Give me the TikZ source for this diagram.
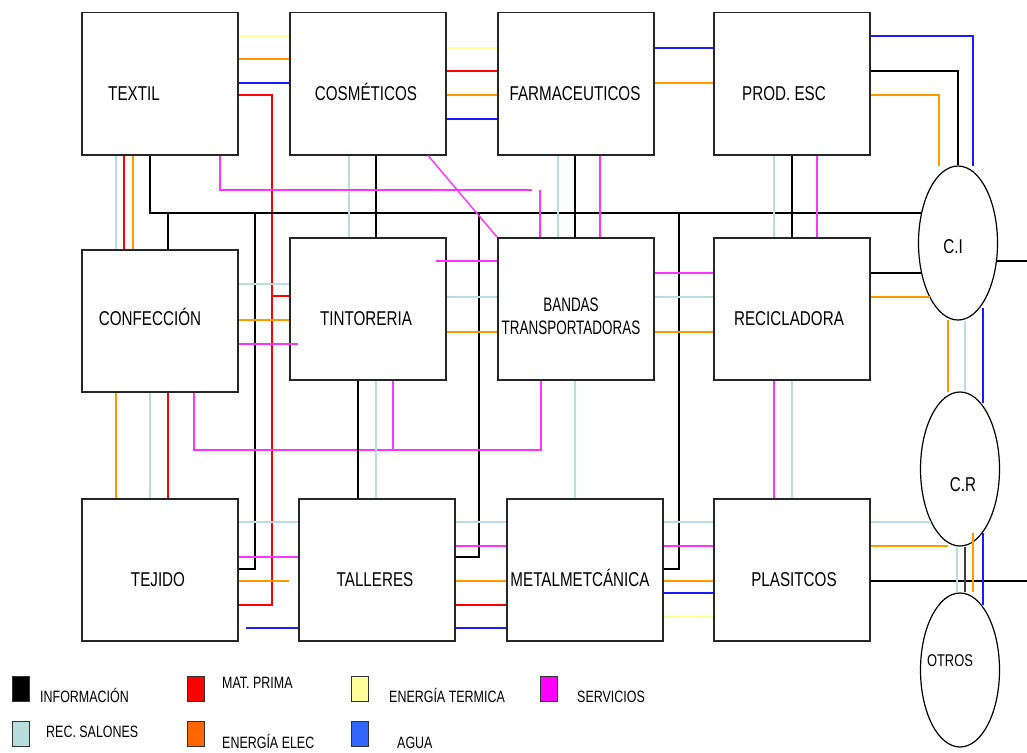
\documentclass[tikz,border=0pt]{standalone}
\usepackage{fontspec}
\setmainfont{Liberation Sans}[FakeStretch=0.76]
\newfontfamily\narrowfont{Liberation Sans}[FakeStretch=0.69]
\usetikzlibrary{shapes.geometric}

\definecolor{cInfo}{HTML}{000000}
\definecolor{cMat}{HTML}{FF0000}
\definecolor{cTerm}{HTML}{FFFF99}
\definecolor{cServ}{HTML}{FF33FF}
\definecolor{cRec}{HTML}{B7DDE0}
\definecolor{cElec}{HTML}{FF9900}
\definecolor{cAgua}{HTML}{1A1AFF}
\definecolor{kServ}{HTML}{FF00FF}
\definecolor{kRec}{HTML}{B7DDDD}
\definecolor{kElec}{HTML}{FF6600}
\definecolor{kAgua}{HTML}{3366FF}

\begin{document}
\begin{tikzpicture}[x=1pt,y=-1pt,
  unit/.style={draw=black!85, line width=1.5pt, minimum width=156pt, minimum height=142pt, inner sep=0pt, anchor=north west},
  hub/.style={ellipse, draw=black, line width=1.2pt, minimum width=79pt, minimum height=154pt, inner sep=0pt},
  lbl/.style={inner sep=0pt, anchor=base, font=\fontsize{20}{24}\selectfont},
  keytext/.style={inner sep=0pt, anchor=base west, font=\fontsize{16.4}{20}\selectfont},
  swatch/.style={draw=black!80, line width=0.8pt, minimum width=17pt, minimum height=25pt, inner sep=0pt, anchor=north west},
  lnInfo/.style={draw=cInfo, line width=1.3pt},
  lnInfoB/.style={draw=black!75, line width=2pt},
  lnMat/.style={draw=cMat, line width=1.3pt},
  lnTerm/.style={draw=cTerm, line width=1.5pt},
  lnServ/.style={draw=cServ, line width=1.4pt},
  lnRec/.style={draw=cRec, line width=1.4pt},
  lnElec/.style={draw=cElec, line width=1.3pt},
  lnAgua/.style={draw=cAgua, line width=1.3pt}]

\useasboundingbox (0,0) rectangle (1027,752);
\fill[white] (0,0) rectangle (1027,752);

% process units
\node[unit] (textil) at (81,12) {};
\node[unit] (cosm)   at (289,12) {};
\node[unit] (farma)  at (497,12) {};
\node[unit] (prod)   at (713,12) {};
\node[unit] (confe)  at (81,249) {};
\node[unit] (tinto)  at (289,237) {};
\node[unit] (bandas) at (497,237) {};
\node[unit] (recic)  at (713,237) {};
\node[unit] (tejido) at (81,498) {};
\node[unit] (talle)  at (298,498) {};
\node[unit] (metal)  at (506,498) {};
\node[unit] (plast)  at (713,498) {};

% collection hubs
\node[hub] (ci)    at (958,243) {};
\node[hub] (cr)    at (960,469) {};
\node[hub] (otros) at (960,670) {};

% free ends at the right border
\coordinate (edgeA) at (1027,261);
\coordinate (edgeB) at (1027,581);

% ---- top row links
\draw[lnTerm] (textil.east |- 0,36) -- (cosm.west |- 0,36);
\draw[lnElec] (textil.east |- 0,59) -- (cosm.west |- 0,59);
\draw[lnAgua] (textil.east |- 0,83) -- (cosm.west |- 0,83);
\draw[lnMat] (textil.east |- 0,95) -- (272,95) -- (272,605) -- (tejido.east |- 0,605);
\draw[lnMat] (272,296) -- (tinto.west |- 0,296);

\draw[lnTerm] (cosm.east |- 0,48) -- (farma.west |- 0,48);
\draw[lnMat] (cosm.east |- 0,71) -- (farma.west |- 0,71);
\draw[lnElec] (cosm.east |- 0,95) -- (farma.west |- 0,95);
\draw[lnAgua] (cosm.east |- 0,119) -- (farma.west |- 0,119);

\draw[lnAgua] (farma.east |- 0,48) -- (prod.west |- 0,48);
\draw[lnElec] (farma.east |- 0,83) -- (prod.west |- 0,83);

\draw[lnAgua] (prod.east |- 0,36) -| (973,166);
\draw[lnInfo] (prod.east |- 0,71) -| (ci.north);
\draw[lnElec] (prod.east |- 0,95) -| (939,166);

% ---- top row to middle row
\draw[lnRec] (textil.south -| 116,0) -- (confe.north -| 116,0);
\draw[lnMat] (textil.south -| 124,0) -- (confe.north -| 124,0);
\draw[lnElec] (textil.south -| 133,0) -- (confe.north -| 133,0);

\draw[lnInfo] (textil.south -| 150,0) |- (922,213);
\draw[lnInfo] (168,213) -- (confe.north -| 168,0);
\draw[lnInfo] (255,213) |- (tejido.east |- 0,569);
\draw[lnInfo] (479,213) |- (talle.east |- 0,557);
\draw[lnInfo] (679,213) |- (metal.east |- 0,569);

\draw[lnRec] (cosm.south -| 349,0) -- (tinto.north -| 349,0);
\draw[lnInfo] (cosm.south -| 376,0) -- (tinto.north -| 376,0);
\draw[lnServ] (cosm.south -| 220,0) |- (532,190);
\draw[lnServ] (540,190) -- (bandas.north -| 540,0);
\draw[lnServ] (cosm.south -| 428,0) -- (bandas.north west);

\draw[lnRec] (farma.south -| 558,0) -- (bandas.north -| 558,0);
\draw[lnInfo] (farma.south -| 575,0) -- (bandas.north -| 575,0);
\draw[lnServ] (farma.south -| 600,0) -- (bandas.north -| 600,0);

\draw[lnRec] (prod.south -| 774,0) -- (recic.north -| 774,0);
\draw[lnInfo] (prod.south -| 792,0) -- (recic.north -| 792,0);
\draw[lnServ] (prod.south -| 817,0) -- (recic.north -| 817,0);

% ---- middle row links
\draw[lnRec] (confe.east |- 0,284) -- (tinto.west |- 0,284);
\draw[lnElec] (confe.east |- 0,320) -- (tinto.west |- 0,320);
\draw[lnServ] (confe.east |- 0,344) -- (298,344);

\draw[lnServ] (436,261) -- (bandas.west |- 0,261);
\draw[lnRec] (tinto.east |- 0,297) -- (bandas.west |- 0,297);
\draw[lnElec] (tinto.east |- 0,332) -- (bandas.west |- 0,332);

\draw[lnServ] (bandas.east |- 0,273) -- (recic.west |- 0,273);
\draw[lnRec] (bandas.east |- 0,297) -- (recic.west |- 0,297);
\draw[lnElec] (bandas.east |- 0,332) -- (recic.west |- 0,332);

\draw[lnInfo] (recic.east |- 0,273) -- (922,273);
\draw[lnElec] (recic.east |- 0,297) -- (930,297);
\draw[lnInfo] (996,261) -- (edgeA);

\draw[lnElec] (948,320) -- (948,392);
\draw[lnRec] (ci.south -| 965,0) -- (cr.north -| 965,0);
\draw[lnAgua] (983,308) -- (983,403);

% ---- middle row to bottom row
\draw[lnElec] (confe.south -| 116,0) -- (tejido.north -| 116,0);
\draw[lnRec] (confe.south -| 150,0) -- (tejido.north -| 150,0);
\draw[lnMat] (confe.south -| 168,0) -- (tejido.north -| 168,0);
\draw[lnServ] (confe.south -| 194,0) |- (541,450) -- (bandas.south -| 541,0);
\draw[lnServ] (tinto.south -| 393,0) -- (393,450);

\draw[lnInfo] (tinto.south -| 358,0) -- (talle.north -| 358,0);
\draw[lnRec] (tinto.south -| 376,0) -- (talle.north -| 376,0);
\draw[lnRec] (bandas.south -| 575,0) -- (metal.north -| 575,0);
\draw[lnServ] (recic.south -| 774,0) -- (plast.north -| 774,0);
\draw[lnRec] (recic.south -| 792,0) -- (plast.north -| 792,0);

% ---- bottom row links
\draw[lnRec] (tejido.east |- 0,522) -- (talle.west |- 0,522);
\draw[lnServ] (tejido.east |- 0,557) -- (talle.west |- 0,557);
\draw[lnElec] (tejido.east |- 0,581) -- (289,581);
\draw[lnAgua] (246,628) -- (talle.west |- 0,628);

\draw[lnRec] (talle.east |- 0,522) -- (metal.west |- 0,522);
\draw[lnServ] (talle.east |- 0,546) -- (metal.west |- 0,546);
\draw[lnElec] (talle.east |- 0,581) -- (metal.west |- 0,581);
\draw[lnMat] (talle.east |- 0,605) -- (metal.west |- 0,605);
\draw[lnAgua] (talle.east |- 0,628) -- (metal.west |- 0,628);

\draw[lnRec] (metal.east |- 0,522) -- (plast.west |- 0,522);
\draw[lnServ] (metal.east |- 0,546) -- (plast.west |- 0,546);
\draw[lnElec] (metal.east |- 0,581) -- (plast.west |- 0,581);
\draw[lnAgua] (metal.east |- 0,593) -- (plast.west |- 0,593);
\draw[lnTerm] (metal.east |- 0,617) -- (plast.west |- 0,617);

\draw[lnRec] (plast.east |- 0,522) -- (931,522);
\draw[lnElec] (plast.east |- 0,546) -- (948,546);
\draw[lnInfo] (plast.east |- 0,581) -- (edgeB);

\draw[lnRec] (cr.south -| 957,0) -- (otros.north -| 957,0);
\draw[lnInfoB] (cr.south -| 965,0) -- (otros.north -| 965,0);
\draw[lnElec] (973,533) -- (otros.north -| 973,0);
\draw[lnAgua] (983,533) -- (983,605);

% ---- unit labels
\node[lbl] (lTextil) at (134,100) {TEXTIL};
\node[lbl] (lCosm)   at (366,100) {COSMÉTICOS};
\node[lbl] (lFarma)  at (575,100) {FARMACEUTICOS};
\node[lbl] (lProd)   at (784,100) {PROD. ESC};
\node[lbl] (lConfe)  at (150,325) {CONFECCIÓN};
\node[lbl] (lTinto)  at (366,325) {TINTORERIA};
\node[lbl, align=center, font=\narrowfont\fontsize{19.5}{23}\selectfont] (lBandas) at (571,334) {BANDAS\\TRANSPORTADORAS};
\node[lbl] (lRecic)  at (789,325) {RECICLADORA};
\node[lbl] (lTejido) at (158,586) {TEJIDO};
\node[lbl] (lTalle)  at (375,586) {TALLERES};
\node[lbl] (lMetal)  at (580,586) {METALMETCÁNICA};
\node[lbl] (lPlast)  at (794,586) {PLASITCOS};
\node[lbl] (lCI)     at (953,253) {C.I};
\node[lbl] (lCR)     at (963,491) {C.R};
\node[lbl, font=\fontsize{17}{20}\selectfont] (lOtros) at (950,666) {OTROS};

% ---- legend
\node[swatch, fill=black]  (kInfo) at (12,676) {};
\node[swatch, fill=cMat]   (kMat)  at (187,676) {};
\node[swatch, fill=cTerm]  (kTerm) at (351,676) {};
\node[swatch, fill=kServ]  (kServ) at (540,676) {};
\node[swatch, fill=kRec]   (kRec)  at (12,721) {};
\node[swatch, fill=kElec]  (kElec) at (187,721) {};
\node[swatch, fill=kAgua]  (kAgua) at (351,721) {};

\node[keytext] (tInfo) at (40,702)  {INFORMACIÓN};
\node[keytext] (tMat)  at (222,688) {MAT. PRIMA};
\node[keytext] (tTerm) at (389,702) {ENERGÍA TERMICA};
\node[keytext] (tServ) at (577,702) {SERVICIOS};
\node[keytext] (tRec)  at (46,737)  {REC. SALONES};
\node[keytext] (tElec) at (222,748) {ENERGÍA ELEC};
\node[keytext] (tAgua) at (397,748) {AGUA};

\end{tikzpicture}
\end{document}
